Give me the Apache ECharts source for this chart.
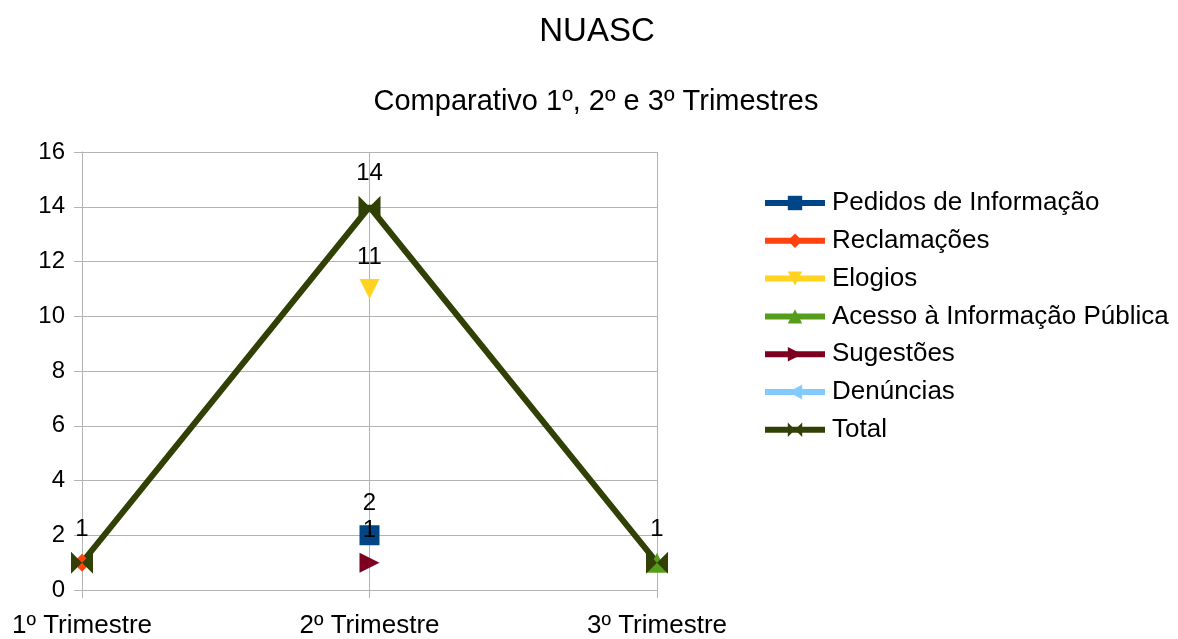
<!DOCTYPE html>
<html>
<head>
<meta charset="utf-8">
<script src="https://cdn.jsdelivr.net/npm/echarts@6/dist/echarts.min.js"></script>
<style>
  html, body { margin: 0; padding: 0; background: #fff; }
  #chart { width: 1178px; height: 639px; }
</style>
</head>
<body>
<div id="chart"></div>
<script>
const categories = ['1º Trimestre', '2º Trimestre', '3º Trimestre'];

const pedidos = ['-', 2, '-'];
const reclamacoes = [1, '-', '-'];
const elogios = ['-', 11, '-'];
const acesso = ['-', '-', 1];
const sugestoes = ['-', 1, '-'];
const denuncias = ['-', '-', '-'];
const total = [1, 14, 1];

const bowtie = 'path://M0,0 L10,5 L0,10 Z M20,0 L10,5 L20,10 Z';
const font = 'Liberation Sans';

function mk(name, data, color, symbol, size, rotate, showLabel) {
  return {
    name: name,
    type: 'line',
    data: data,
    color: color,
    symbol: symbol,
    symbolSize: size,
    symbolRotate: rotate || 0,
    showAllSymbol: true,
    connectNulls: false,
    lineStyle: { width: 6, color: color },
    itemStyle: { color: color },
    label: {
      show: showLabel !== false, position: 'top', distance: 10,
      color: '#000', fontSize: 24, fontFamily: font
    },
    emphasis: { disabled: true },
    z: 2
  };
}

let myChart = echarts.init(document.getElementById('chart'));
let option = {
  animation: false,
  textStyle: { fontFamily: font },
  title: [
    { text: 'NUASC', left: 592, top: 10, textAlign: 'center',
      textStyle: { fontSize: 33, fontWeight: 'normal', color: '#000', fontFamily: font } },
    { text: 'Comparativo 1º, 2º e 3º Trimestres', left: 591, top: 82, textAlign: 'center',
      textStyle: { fontSize: 29, fontWeight: 'normal', color: '#000', fontFamily: font } }
  ],
  legend: {
    orient: 'vertical',
    left: 757,
    top: 185,
    itemWidth: 60,
    itemHeight: 18,
    itemGap: 11.8,
    lineStyle: { width: 6 },
    textStyle: { fontSize: 26, color: '#000', fontFamily: font, padding: [0, 0, 0, 2] },
    data: ['Pedidos de Informação', 'Reclamações', 'Elogios', 'Acesso à Informação Pública', 'Sugestões', 'Denúncias', 'Total']
  },
  grid: { left: 82, top: 152, width: 575, height: 441, containLabel: false },
  xAxis: {
    type: 'category',
    data: categories,
    boundaryGap: false,
    axisLine: { show: true, lineStyle: { color: '#b3b3b3', width: 1 } },
    axisTick: { show: true, alignWithLabel: true, length: 8, lineStyle: { color: '#b3b3b3' } },
    axisLabel: { fontSize: 26, color: '#000', margin: 23, fontFamily: font },
    splitLine: { show: true, lineStyle: { color: '#b3b3b3', width: 1 } }
  },
  yAxis: {
    type: 'value',
    min: 0, max: 16, interval: 2,
    axisLine: { show: true, lineStyle: { color: '#b3b3b3', width: 1 } },
    axisTick: { show: true, length: 8, lineStyle: { color: '#b3b3b3' } },
    axisLabel: { fontSize: 24, color: '#000', margin: 17, fontFamily: font },
    splitLine: { show: true, lineStyle: { color: '#b3b3b3', width: 1 } }
  },
  series: [
    mk('Pedidos de Informação', pedidos, '#004586', 'rect', 20),
    mk('Reclamações', reclamacoes, '#ff420e', 'diamond', 18, 0, false),
    mk('Elogios', elogios, '#ffd320', 'triangle', 20, 180),
    mk('Acesso à Informação Pública', acesso, '#579d1c', 'triangle', 20, 0, false),
    mk('Sugestões', sugestoes, '#7e0021', 'triangle', 20, -90),
    mk('Denúncias', denuncias, '#83caff', 'triangle', 20, 90),
    mk('Total', total, '#314004', bowtie, [22, 22])
  ]
};
option && myChart.setOption(option);
</script>
</body>
</html>
